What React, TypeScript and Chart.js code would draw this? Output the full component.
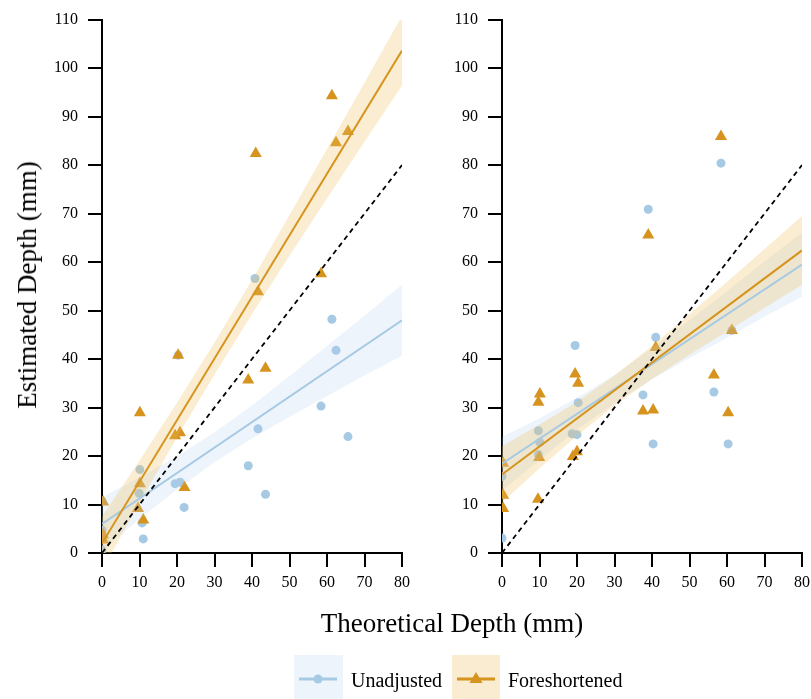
import React, { useEffect, useRef } from "react";
import { Chart, registerables } from "chart.js";

Chart.register(...registerables);

// ---------- data ----------
const X_TICK_MIN = 0;
const X_TICK_MAX = 80;
const Y_TICK_MIN = 0;
const Y_TICK_MAX = 110;

// Left panel
const L_UN_X = [0, 0, 0, 10.1, 9.9, 10.7, 11, 19.5, 20.8, 21.9, 20.3, 40.8, 41.6, 39, 43.6, 61.3, 62.4, 58.4, 65.6];
const L_UN_Y = [10.7, 4.7, 0.6, 17.2, 12.3, 6.2, 2.9, 14.3, 14.6, 9.4, 40.8, 56.6, 25.6, 18.0, 12.1, 48.2, 41.8, 30.3, 24.0];
const L_FS_X = [0.3, 0.3, 0.3, 10.1, 10.1, 9.6, 11, 19.5, 20.8, 20.3, 22, 39, 43.6, 41, 41.6, 58.4, 61.3, 62.4, 65.6];
const L_FS_Y = [10.5, 3.7, 2.7, 28.9, 14.3, 9.2, 6.8, 24.2, 24.8, 40.8, 13.5, 35.7, 38.1, 82.4, 53.9, 57.6, 94.3, 84.6, 86.9];

// Right panel
const R_UN_X = [0, 0, 0, 9.7, 10.1, 9.7, 19.5, 20.3, 18.7, 20, 39, 41, 37.6, 40.3, 58.4, 61.3, 56.5, 60.3];
const R_UN_Y = [18.6, 15.8, 3.1, 25.2, 22.8, 20.3, 42.8, 31.0, 24.6, 24.4, 70.9, 44.5, 32.6, 22.5, 80.4, 45.9, 33.2, 22.5];
const R_FS_X = [0.3, 0.3, 0.3, 10.1, 9.7, 9.9, 9.6, 19.5, 20.3, 18.9, 20, 39, 41, 37.6, 40.3, 58.4, 61.3, 56.5, 60.3];
const R_FS_Y = [18.5, 11.9, 9.2, 32.8, 31.1, 19.7, 11.1, 36.9, 35.0, 19.9, 20.9, 65.6, 42.4, 29.3, 29.5, 85.9, 45.9, 36.7, 28.9];

// Fit lines (endpoints at x = 0 and x = 80)
const FIT_X = [0, 80];
const L_UN_FIT = [6.0, 48.0];
const L_FS_FIT = [2.0, 103.6];
const R_UN_FIT = [18.4, 59.5];
const R_FS_FIT = [16.2, 62.4];

// Confidence bands
const BAND_X = [0, 10, 20, 30, 40, 50, 60, 70, 80];
const L_UN_UP = [11.5, 15.6, 19.9, 24.9, 30.4, 36.5, 42.7, 49.0, 55.3];
const L_UN_LO = [0.5, 7.0, 13.1, 18.7, 23.6, 28.1, 32.3, 36.6, 40.7];
const L_FS_UP = [7.5, 19.1, 31.0, 43.4, 56.3, 69.7, 83.3, 97.0, 110.8];
const L_FS_LO = [-3.5, 10.3, 23.8, 36.8, 49.3, 61.3, 73.1, 84.8, 96.4];
const R_UN_UP = [23.9, 27.8, 32.0, 36.7, 42.2, 48.0, 54.0, 60.1, 66.1];
const R_UN_LO = [12.9, 19.2, 25.4, 30.9, 35.8, 40.2, 44.4, 48.7, 52.9];
const R_FS_UP = [22.0, 26.5, 31.2, 36.6, 42.7, 49.3, 55.9, 62.7, 69.5];
const R_FS_LO = [10.4, 17.5, 24.2, 30.4, 35.9, 40.9, 45.7, 50.5, 55.3];

const IDENTITY_X = [0, 80];
const IDENTITY_Y = [0, 80];

const SERIES_NAMES = ["Unadjusted", "Foreshortened"];
const X_TITLE = "Theoretical Depth (mm)";
const Y_TITLE = "Estimated Depth (mm)";

// ---------- styles ----------
const BLUE = "rgb(166,202,228)";
const ORANGE = "rgb(214,148,31)";
const BLUE_BAND = "rgba(176,205,238,0.22)";
const ORANGE_BAND = "rgba(236,190,90,0.27)";
const FONT = "'Liberation Serif', 'Times New Roman', serif";

const pts = (xs: number[], ys: number[]) => xs.map((x, i) => ({ x, y: ys[i] }));

type PanelProps = {
  left: number;
  width: number;
  yAxisWidth: number;
  padRight: number;
  unX: number[];
  unY: number[];
  fsX: number[];
  fsY: number[];
  unFit: number[];
  fsFit: number[];
  unUp: number[];
  unLo: number[];
  fsUp: number[];
  fsLo: number[];
};

function Panel(p: PanelProps) {
  const ref = useRef<HTMLCanvasElement | null>(null);
  useEffect(() => {
    if (!ref.current) return;
    const chart = new Chart(ref.current, {
      type: "line",
      data: {
        datasets: [
          {
            label: "identity",
            data: pts(IDENTITY_X, IDENTITY_Y),
            borderColor: "#000",
            borderWidth: 1.8,
            borderDash: [5, 4],
            pointRadius: 0,
            fill: false,
            order: 1,
          },
          {
            label: "fs fit",
            data: pts(FIT_X, p.fsFit),
            borderColor: ORANGE,
            borderWidth: 2,
            pointRadius: 0,
            fill: false,
            order: 2,
          },
          {
            label: "un fit",
            data: pts(FIT_X, p.unFit),
            borderColor: BLUE,
            borderWidth: 2,
            pointRadius: 0,
            fill: false,
            order: 3,
          },
          {
            label: "fs up",
            data: pts(BAND_X, p.fsUp),
            borderWidth: 0,
            borderColor: "rgba(0,0,0,0)",
            backgroundColor: ORANGE_BAND,
            pointRadius: 0,
            fill: "+1",
            order: 4,
          },
          {
            label: "fs lo",
            data: pts(BAND_X, p.fsLo),
            borderWidth: 0,
            borderColor: "rgba(0,0,0,0)",
            pointRadius: 0,
            fill: false,
            order: 4,
          },
          {
            label: "un up",
            data: pts(BAND_X, p.unUp),
            borderWidth: 0,
            borderColor: "rgba(0,0,0,0)",
            backgroundColor: BLUE_BAND,
            pointRadius: 0,
            fill: "+1",
            order: 5,
          },
          {
            label: "un lo",
            data: pts(BAND_X, p.unLo),
            borderWidth: 0,
            borderColor: "rgba(0,0,0,0)",
            pointRadius: 0,
            fill: false,
            order: 5,
          },
          {
            label: SERIES_NAMES[1],
            data: pts(p.fsX, p.fsY),
            showLine: false,
            pointStyle: "triangle",
            pointRadius: 7,
            pointBackgroundColor: ORANGE,
            pointBorderWidth: 0,
            pointBorderColor: ORANGE,
            clip: 0,
            order: 6,
          },
          {
            label: SERIES_NAMES[0],
            data: pts(p.unX, p.unY),
            showLine: false,
            pointStyle: "circle",
            pointRadius: 4.5,
            pointBackgroundColor: BLUE,
            pointBorderWidth: 0,
            pointBorderColor: BLUE,
            clip: 0,
            order: 7,
          },
        ] as any,
      },
      options: {
        animation: false,
        responsive: false,
        devicePixelRatio: 1,
        events: [],
        layout: { padding: { top: 16, right: p.padRight, left: 0, bottom: 0 } },
        plugins: {
          legend: { display: false },
          tooltip: { enabled: false },
          filler: { drawTime: "beforeDatasetDraw" } as any,
        },
        scales: {
          x: {
            type: "linear",
            min: X_TICK_MIN,
            max: X_TICK_MAX,
            ticks: {
              stepSize: 10,
              padding: 6,
              color: "#000",
              font: { family: FONT, size: 16 },
            },
            grid: {
              display: true,
              drawOnChartArea: false,
              drawTicks: true,
              tickLength: 14,
              color: "#000",
              lineWidth: 2,
            },
            border: { display: true, color: "#000", width: 2 },
            afterFit: (s: any) => {
              s.height = 146;
            },
          },
          y: {
            type: "linear",
            min: Y_TICK_MIN,
            max: Y_TICK_MAX,
            ticks: {
              stepSize: 10,
              padding: 10,
              color: "#000",
              font: { family: FONT, size: 16 },
            },
            grid: {
              display: true,
              drawOnChartArea: false,
              drawTicks: true,
              tickLength: 14,
              color: "#000",
              lineWidth: 2,
            },
            border: { display: true, color: "#000", width: 2 },
            afterFit: (s: any) => {
              s.width = p.yAxisWidth;
            },
          },
        },
      } as any,
    });
    return () => chart.destroy();
  }, []);
  return (
    <canvas
      ref={ref}
      width={p.width}
      height={699}
      style={{ position: "absolute", left: p.left, top: 0, width: p.width, height: 699 }}
    />
  );
}

function LegendKey({ color, shape }: { color: string; shape: "circle" | "triangle" }) {
  return (
    <svg width="48" height="44" style={{ position: "absolute", left: 0, top: 0 }}>
      <line x1="5" y1="24" x2="43" y2="24" stroke={color} strokeWidth="3" />
      {shape === "circle" ? (
        <circle cx="24" cy="24" r="4.5" fill={color} />
      ) : (
        <polygon points="24,17 30.5,28 17.5,28" fill={color} />
      )}
    </svg>
  );
}

export default function App() {
  const textStyle: React.CSSProperties = {
    position: "absolute",
    fontFamily: FONT,
    color: "#000",
    whiteSpace: "nowrap",
  };
  return (
    <div
      style={{
        position: "absolute",
        left: 0,
        top: 0,
        width: 811,
        height: 699,
        overflow: "hidden",
        background: "#fff",
      }}
    >
      <Panel
        left={0}
        width={420}
        yAxisWidth={102}
        padRight={18}
        unX={L_UN_X}
        unY={L_UN_Y}
        fsX={L_FS_X}
        fsY={L_FS_Y}
        unFit={L_UN_FIT}
        fsFit={L_FS_FIT}
        unUp={L_UN_UP}
        unLo={L_UN_LO}
        fsUp={L_FS_UP}
        fsLo={L_FS_LO}
      />
      <Panel
        left={420}
        width={396}
        yAxisWidth={82}
        padRight={14}
        unX={R_UN_X}
        unY={R_UN_Y}
        fsX={R_FS_X}
        fsY={R_FS_Y}
        unFit={R_UN_FIT}
        fsFit={R_FS_FIT}
        unUp={R_UN_UP}
        unLo={R_UN_LO}
        fsUp={R_FS_UP}
        fsLo={R_FS_LO}
      />
      {/* Y title */}
      <div
        style={{
          ...textStyle,
          fontSize: 27,
          left: 27,
          top: 285,
          transform: "translate(-50%, -50%) rotate(-90deg)",
          lineHeight: "30px",
        }}
      >
        {Y_TITLE}
      </div>
      {/* X title */}
      <div
        style={{
          ...textStyle,
          fontSize: 27,
          left: 452,
          top: 623,
          transform: "translate(-50%, -50%)",
          lineHeight: "30px",
        }}
      >
        {X_TITLE}
      </div>
      {/* Legend */}
      <div style={{ position: "absolute", left: 294, top: 655, width: 49, height: 46, background: "rgb(238,244,251)" }}>
        <LegendKey color={BLUE} shape="circle" />
      </div>
      <div style={{ ...textStyle, fontSize: 20, left: 351, top: 668, lineHeight: "24px" }}>{SERIES_NAMES[0]}</div>
      <div style={{ position: "absolute", left: 452, top: 655, width: 48, height: 46, background: "rgb(249,236,209)" }}>
        <LegendKey color={ORANGE} shape="triangle" />
      </div>
      <div style={{ ...textStyle, fontSize: 20, left: 508, top: 668, lineHeight: "24px" }}>{SERIES_NAMES[1]}</div>
    </div>
  );
}
